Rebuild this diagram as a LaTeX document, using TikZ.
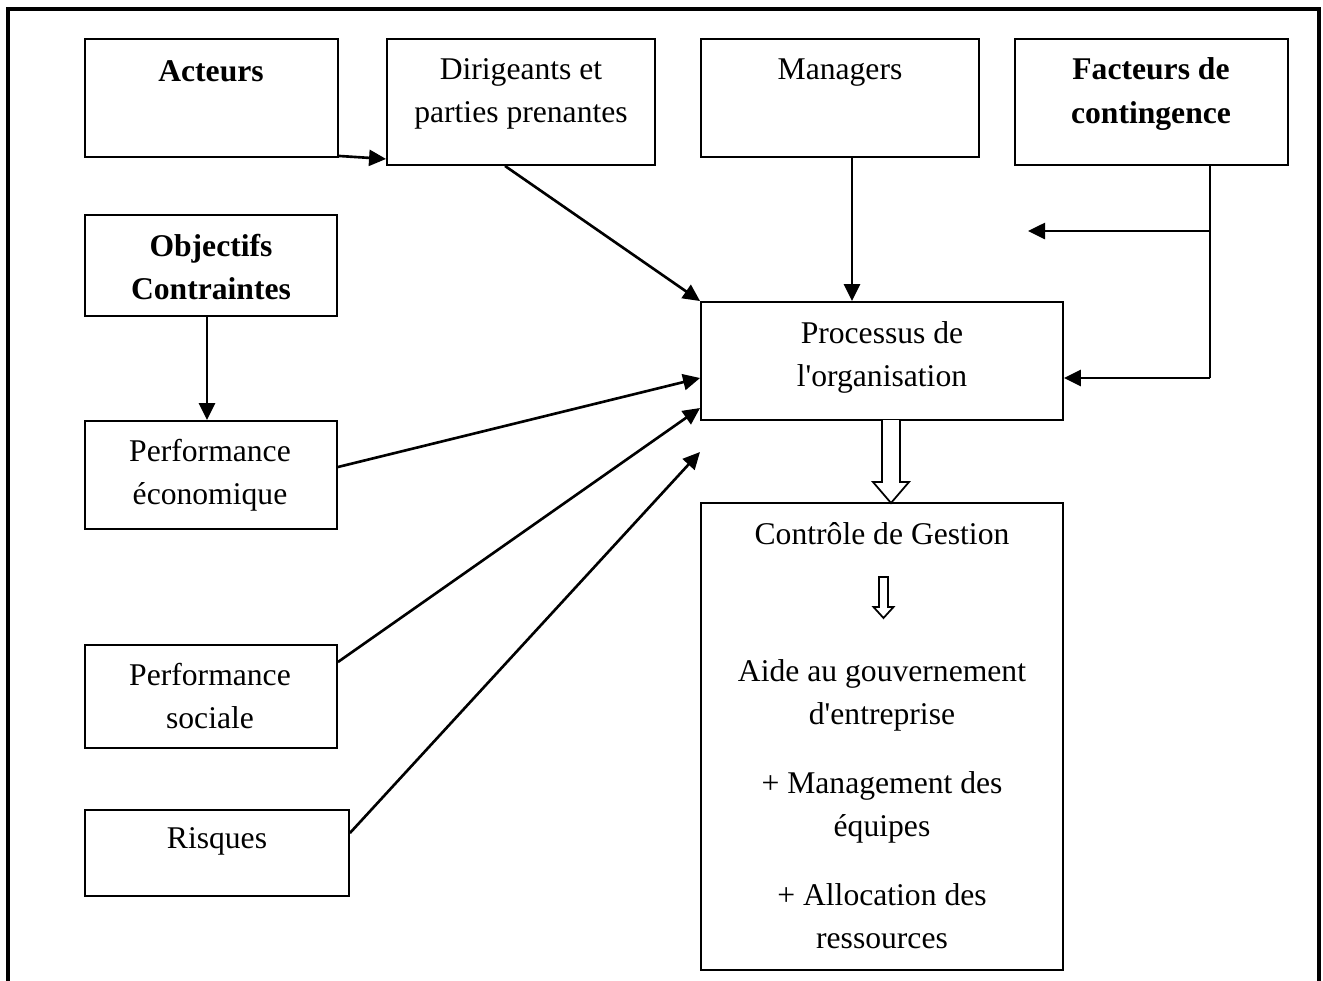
\documentclass[tikz,border=0pt]{standalone}
\usepackage{fontspec}
\setmainfont{Liberation Serif}[Ligatures=TeXOff]
\usetikzlibrary{arrows.meta,calc}
\begin{document}
\begin{tikzpicture}[x=0.02cm,y=-0.02cm,
  box/.style={draw,line width=1.1pt,inner sep=0pt},
  txt/.style={align=center,inner sep=0pt,font=\fontsize{18}{24.5}\selectfont},
  btxt/.style={txt,font=\fontsize{18}{24.5}\selectfont\bfseries},
  arr/.style={line width=1.5pt,-{Triangle[length=0.34cm,width=0.32cm]}},
  hollow/.style={draw,line width=1pt,fill=white,line join=miter}]
\useasboundingbox (0,0) rectangle (1323,981);

% outer frame, open at the bottom
\draw[line width=2pt] (8,981) -- (8,9) -- (1319,9) -- (1319,981);

% boxes
\node[box,minimum width=5.06cm,minimum height=2.36cm] (act) at (211.5,98) {};
\node[box,minimum width=5.36cm,minimum height=2.52cm] (dir) at (521,102) {};
\node[box,minimum width=5.56cm,minimum height=2.36cm] (man) at (840,98) {};
\node[box,minimum width=5.46cm,minimum height=2.52cm] (fac) at (1151.5,102) {};
\node[box,minimum width=5.04cm,minimum height=2.02cm] (obj) at (211,265.5) {};
\node[box,minimum width=5.04cm,minimum height=2.16cm] (eco) at (211,475) {};
\node[box,minimum width=5.04cm,minimum height=2.06cm] (soc) at (211,696.5) {};
\node[box,minimum width=5.28cm,minimum height=1.72cm] (ris) at (217,853) {};
\node[box,minimum width=7.24cm,minimum height=2.36cm] (proc) at (882,361) {};
\node[box,minimum width=7.24cm,minimum height=9.34cm] (cg) at (882,736.5) {};

% texts
\node[btxt] (tact) at (211,71) {Acteurs};
\node[txt] (tdir) at (521,94) {Dirigeants et\\parties prenantes};
\node[txt] (tman) at (840,73) {Managers};
\node[btxt] (tfac) at (1151,94) {Facteurs de\\contingence};
\node[btxt] (tobj) at (211,267) {Objectifs\\Contraintes};
\node[txt] (teco) at (210,475) {Performance\\économique};
\node[txt] (tsoc) at (210,696) {Performance\\sociale};
\node[txt] (tris) at (217,841) {Risques};
\node[txt] (tproc) at (882,357) {Processus de\\l'organisation};
\node[txt] (tcg) at (882,534) {Contrôle de Gestion};
\node[txt] (taide) at (882,695) {Aide au gouvernement\\d'entreprise};
\node[txt] (tman2) at (882,807) {+ Management des\\équipes};
\node[txt] (talloc) at (882,916) {+ Allocation des\\ressources};

% connectors
\draw[arr] ([yshift=0.04cm]act.south east) -- ([yshift=0.14cm]dir.south west);
\draw[arr] ([xshift=-0.32cm]dir.south) -- (proc.north west);
\draw[arr] ([xshift=0.24cm]man.south) coordinate (m1) -- (m1 |- proc.north);
\coordinate (pin) at ([yshift=-0.34cm]proc.east);
\draw[line width=1.1pt] ([xshift=1.17cm]fac.south) coordinate (f1) -- (f1 |- pin);
\draw[arr] (f1 |- pin) -- (pin);
\coordinate (fout) at (1028,231);
\draw[arr] (f1 |- fout) -- (fout);
\draw[arr] ([xshift=-0.08cm]obj.south) coordinate (o1) -- (o1 |- eco.north);
\draw[arr] ([yshift=0.16cm]eco.east) -- ([yshift=-0.34cm]proc.west);
\draw[arr] ([yshift=0.69cm]soc.east) -- ([yshift=-0.94cm]proc.west);
\coordinate (rtip) at (700,452);
\draw[arr] ([yshift=0.4cm]ris.east) -- (rtip);

% hollow block arrows
\draw[hollow] (882,420) -- (882,482) -- (873,482) -- (891,503) -- (909,482) -- (900,482) -- (900,420);
\draw[hollow] (879,577) -- (888,577) -- (888,607) -- (893.5,607) -- (883.5,618) -- (873.5,607) -- (879,607) -- cycle;
\end{tikzpicture}
\end{document}
